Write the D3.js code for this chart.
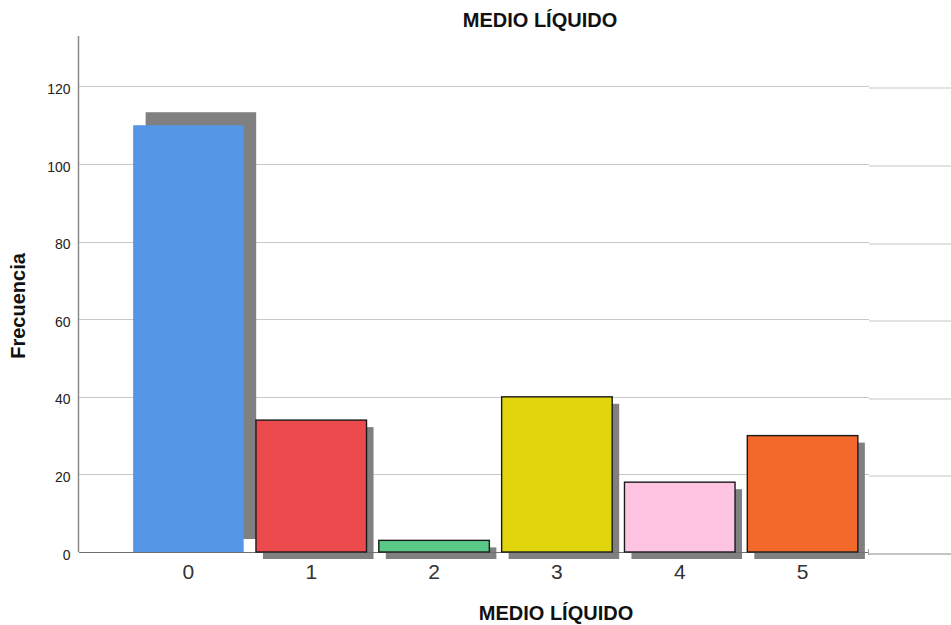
<!DOCTYPE html>
<html>
<head>
<meta charset="utf-8">
<script src="https://cdn.jsdelivr.net/npm/d3@7"></script>
<style>
  html, body { margin: 0; padding: 0; background: #fff; }
  svg { display: block; font-family: "Liberation Sans", Arial, sans-serif; }
</style>
</head>
<body>
<svg id="chart" width="951" height="625"></svg>
<script>
// Frequency of each MEDIO LÍQUIDO category
const categories = ["0", "1", "2", "3", "4", "5"];
const frequencies = [110, 34, 3, 40, 18, 30];
const barColors = ["#5596E6", "#EC4A4D", "#5AC987", "#E1D60E", "#FEC4E2", "#F2692B"];
const yTicks = [0, 20, 40, 60, 80, 100, 120];
const chartTitle = "MEDIO LÍQUIDO";
const xTitle = "MEDIO LÍQUIDO";
const yTitle = "Frecuencia";

const svg = d3.select("#chart");
const plot = { left: 79, right: 869, top: 36, bottom: 552 };

const x = d3.scaleBand()
  .domain(categories)
  .range([127, 864])
  .paddingInner(0.1)
  .paddingOuter(0.05);

const y = d3.scaleLinear()
  .domain([0, 133])
  .range([plot.bottom, plot.top]);

// grid lines, with the faint continuation past the plot edge
const grid = svg.append("g");
grid.selectAll("line.main")
  .data(yTicks.filter(d => d > 0))
  .join("line")
  .attr("class", "main")
  .attr("x1", plot.left).attr("x2", plot.right)
  .attr("y1", d => Math.round(y(d)) + 0.5)
  .attr("y2", d => Math.round(y(d)) + 0.5)
  .attr("stroke", "#c8c8c8").attr("stroke-width", 1.2);
grid.selectAll("line.ext")
  .data(yTicks)
  .join("line")
  .attr("class", "ext")
  .attr("x1", plot.right).attr("x2", 951)
  .attr("y1", d => Math.round(y(d)) + 2)
  .attr("y2", d => Math.round(y(d)) + 2)
  .attr("stroke", d => d === 0 ? "#c4c4c4" : "#e2e2e2")
  .attr("stroke-width", 2);

// drop shadows: the first bar casts its shadow up-right, the rest down-right
const shadowOffset = i => i === 0 ? [12.5, -13] : [7, 7];
svg.append("g").selectAll("rect")
  .data(frequencies)
  .join("rect")
  .attr("x", (d, i) => x(categories[i]) + shadowOffset(i)[0])
  .attr("y", (d, i) => y(d) + shadowOffset(i)[1])
  .attr("width", x.bandwidth())
  .attr("height", d => y(0) - y(d))
  .attr("fill", "#808080");

// baseline
svg.append("line")
  .attr("x1", plot.left).attr("x2", plot.right)
  .attr("y1", y(0) + 0.5).attr("y2", y(0) + 0.5)
  .attr("stroke", "#707070").attr("stroke-width", 1.2);
svg.append("line")
  .attr("x1", plot.right - 0.5).attr("x2", plot.right - 0.5)
  .attr("y1", y(0) - 3).attr("y2", y(0) + 3)
  .attr("stroke", "#a0a0a0").attr("stroke-width", 1);

// bars
svg.append("g").selectAll("rect")
  .data(frequencies)
  .join("rect")
  .attr("x", (d, i) => x(categories[i]))
  .attr("y", d => y(d))
  .attr("width", x.bandwidth())
  .attr("height", d => y(0) - y(d))
  .attr("fill", (d, i) => barColors[i])
  .attr("stroke", (d, i) => i === 0 ? "none" : "#1a1a1a")
  .attr("stroke-width", 1.4);

// y axis
const yAxis = svg.append("g")
  .attr("transform", `translate(${plot.left - 0.5},0)`)
  .call(d3.axisLeft(y).tickValues(yTicks).tickSize(0).tickPadding(8));
yAxis.select(".domain")
  .attr("d", `M0,${plot.top}V${plot.bottom}`)
  .attr("stroke", "#8a8a8a").attr("stroke-width", 1.5);
yAxis.selectAll("text")
  .attr("font-size", 14)
  .attr("fill", "#222")
  .attr("dy", "0.5em");

// x axis labels
const xAxis = svg.append("g")
  .attr("transform", `translate(0,${plot.bottom})`)
  .call(d3.axisBottom(x).tickSize(0).tickPadding(12));
xAxis.select(".domain").remove();
xAxis.selectAll("text")
  .attr("font-size", 21)
  .attr("fill", "#333");

// titles
svg.append("text")
  .attr("x", 540).attr("y", 26.5)
  .attr("text-anchor", "middle")
  .attr("font-size", 20).attr("font-weight", "bold")
  .attr("fill", "#111")
  .text(chartTitle);
svg.append("text")
  .attr("x", 556).attr("y", 620)
  .attr("text-anchor", "middle")
  .attr("font-size", 20).attr("font-weight", "bold")
  .attr("fill", "#111")
  .text(xTitle);
svg.append("text")
  .attr("transform", "translate(25,306) rotate(-90)")
  .attr("text-anchor", "middle")
  .attr("font-size", 20).attr("font-weight", "bold")
  .attr("fill", "#111")
  .text(yTitle);
</script>
</body>
</html>
